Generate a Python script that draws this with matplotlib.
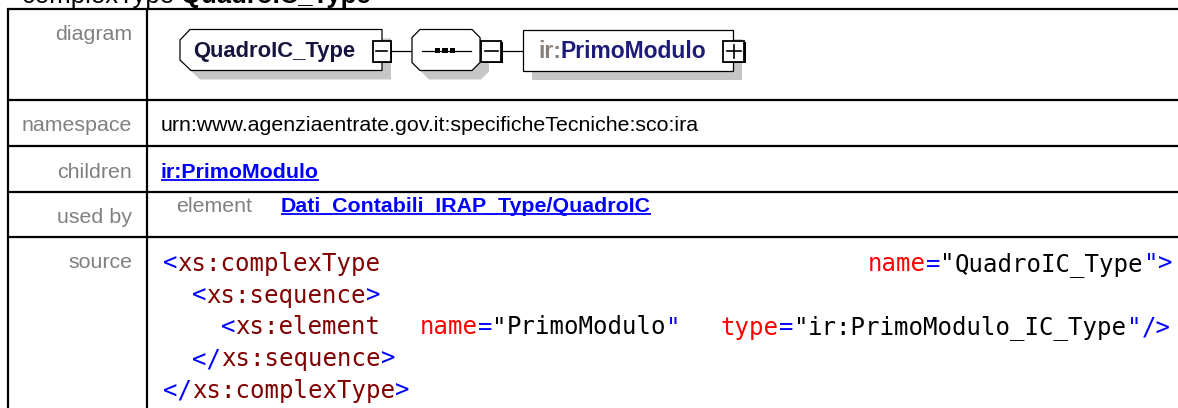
import matplotlib
matplotlib.use('Agg')
import matplotlib.pyplot as plt
from matplotlib.patches import Polygon, Rectangle

# ---------------- content ----------------
title_prefix = "complexType "
title_name = "QuadroIC_Type"
row_labels = ["diagram", "namespace", "children", "used by", "source"]
namespace_value = "urn:www.agenziaentrate.gov.it:specificheTecniche:sco:ira"
children_links = ["ir:PrimoModulo"]
used_by_kind = "element"
used_by_links = ["Dati_Contabili_IRAP_Type/QuadroIC"]
diagram_type_name = "QuadroIC_Type"
diagram_child_prefix = "ir:"
diagram_child_name = "PrimoModulo"

# source code: each line is a list of cells, each cell a list of (text, role)
source_lines = [
    [[("<", "tag"), ("xs:complexType", "el")],
     [("name", "an"), ("=", "tag"), ('"', "tx"), ("QuadroIC_Type", "tx"), ('"', "tag"), (">", "tag")]],
    [[("<", "tag"), ("xs:sequence", "el"), (">", "tag")]],
    [[("<", "tag"), ("xs:element", "el")],
     [("name", "an"), ("=", "tag"), ('"', "tx"), ("PrimoModulo", "tx"), ('"', "tag")],
     [("type", "an"), ("=", "tag"), ('"', "tx"), ("ir:PrimoModulo_IC_Type", "tx"), ('"', "tag"), ("/>", "tag")]],
    [[("</", "tag"), ("xs:sequence", "el"), (">", "tag")]],
    [[("</", "tag"), ("xs:complexType", "el"), (">", "tag")]],
]

# ---------------- layout / style ----------------
W, H = 1178, 408
role_colors = {"tag": "#0000ff", "el": "#800000", "an": "#ff0000", "tx": "#000000"}
source_cell_x = [[163, 868], [192], [221, 420, 721], [192], [163]]
source_baselines = [271, 302.8, 334.5, 366.2, 398]
label_baselines = [40, 130.7, 177.5, 223.3, 268]
row_lines_y = [9, 99.5, 145.5, 192, 237]
LEFT_X, DIV_X = 7.5, 146.5
SANS = "Liberation Sans"
MONO = "DejaVu Sans Mono"
LABEL_PT = 15.4
GRAY = "#808080"
LINK = "#0000ff"

fig = plt.figure(figsize=(W / 100, H / 100), dpi=100)
ax = fig.add_axes([0, 0, 1, 1])
ax.set_xlim(0, W)
ax.set_ylim(H, 0)
ax.axis('off')
renderer = fig.canvas.get_renderer()


def width_of(t):
    return t.get_window_extent(renderer=renderer).width


# title (partially cut off at top, as in the reference)
t1 = ax.text(22, 3, title_prefix, family=SANS, fontsize=18.5, va='baseline', ha='left', color='black')
ax.text(22 + width_of(t1), 3, title_name, family=SANS, fontsize=18.5, fontweight='bold',
        va='baseline', ha='left', color='black')

# table lines
for y in row_lines_y:
    ax.plot([LEFT_X - 1, W], [y, y], color='black', lw=1.6, solid_capstyle='butt')
for x in (LEFT_X, DIV_X):
    ax.plot([x, x], [row_lines_y[0] - 0.8, H], color='black', lw=1.6, solid_capstyle='butt')

# row labels
for lab, yb in zip(row_labels, label_baselines):
    ax.text(132, yb, lab, family=SANS, fontsize=LABEL_PT, color=GRAY, ha='right', va='baseline')

# namespace
ax.text(161, label_baselines[1], namespace_value, family=SANS, fontsize=LABEL_PT,
        color='black', ha='left', va='baseline')


def link(x, yb, s):
    t = ax.text(x, yb, s, family=SANS, fontsize=LABEL_PT, fontweight='bold', color=LINK,
                ha='left', va='baseline')
    w = width_of(t)
    ax.plot([x, x + w], [yb + 2.2, yb + 2.2], color=LINK, lw=1.3, solid_capstyle='butt')


link(161, label_baselines[2], children_links[0])
ax.text(176, 211.5, used_by_kind, family=SANS, fontsize=LABEL_PT, color=GRAY, ha='left', va='baseline')
link(281, 211.5, used_by_links[0])

# source code
probe = ax.text(0, -100, "x" * 20, family=MONO, fontsize=17.3)
adv = width_of(probe) / 20
probe.remove()
for cells, xs, yb in zip(source_lines, source_cell_x, source_baselines):
    for cell, x0 in zip(cells, xs):
        x = x0
        for txt, role in cell:
            ax.text(x, yb, txt, family=MONO, fontsize=17.3, color=role_colors[role],
                    ha='left', va='baseline')
            x += adv * len(txt)

# ---------------- diagram ----------------
SH = "#c6c6c6"
OFF = 9
cy = 50.7


def poly(pts, fc='white', ec='black', lw=0.9, z=3):
    ax.add_patch(Polygon(pts, closed=True, facecolor=fc, edgecolor=ec, lw=lw, zorder=z))


def shadowed(pts):
    poly([(x + OFF, y + OFF) for x, y in pts], fc=SH, ec='none', z=2)
    poly(pts)


def toggle_box(x0, x1, plus=False):
    y0, y1 = 40.5, 61.5
    ax.add_patch(Rectangle((x0 + 1.5, y0 + 1.5), x1 - x0, y1 - y0, facecolor='black', edgecolor='none', zorder=4))
    ax.add_patch(Rectangle((x0, y0), x1 - x0, y1 - y0, facecolor='white', edgecolor='black', lw=1.3, zorder=5))
    xm = (x0 + x1) / 2
    ym = (y0 + y1) / 2
    ax.plot([x0 + 3.5, x1 - 3.5], [ym, ym], color='black', lw=1.2, zorder=6)
    if plus:
        ax.plot([xm, xm], [y0 + 4, y1 - 4], color='black', lw=1.2, zorder=6)


# connector lines
ax.plot([390, 412], [cy, cy], color='black', lw=0.9, zorder=3)
ax.plot([501, 523], [cy, cy], color='black', lw=0.9, zorder=3)

# QuadroIC_Type box (chamfered left corners)
shadowed([(180, 40), (190, 29.5), (382, 29.5), (382, 70.5), (191, 70.5), (180, 60)])
ax.text(193, 57.5, diagram_type_name, family=SANS, fontsize=15.8, fontweight='bold',
        color='#14143c', ha='left', va='baseline', zorder=6)
toggle_box(372.5, 390.5)

# sequence compositor (octagon)
shadowed([(412, 37.5), (420, 29.5), (472, 29.5), (480, 37.5), (480, 62.5), (472, 70.5), (420, 70.5), (412, 62.5)])
ax.plot([421.5, 470.5], [cy, cy], color='black', lw=0.9, zorder=6)
for xc in (437.5, 445, 452.5):
    ax.add_patch(Rectangle((xc - 2.6, cy - 2.3), 5.2, 4.6, facecolor='black', edgecolor='none', zorder=7))
toggle_box(481, 501)

# PrimoModulo element box
shadowed([(523, 29.5), (733, 29.5), (733, 70.5), (523, 70.5)])
tp = ax.text(538, 57.5, diagram_child_prefix, family=SANS, fontsize=16.5, fontweight='bold',
             color='#8a7f76', ha='left', va='baseline', zorder=6)
ax.text(538 + width_of(tp), 57.5, diagram_child_name, family=SANS, fontsize=16.5, fontweight='bold',
        color='#1c1c78', ha='left', va='baseline', zorder=6)
toggle_box(723, 744, plus=True)

fig.savefig("out.png", dpi=100, facecolor='white')
